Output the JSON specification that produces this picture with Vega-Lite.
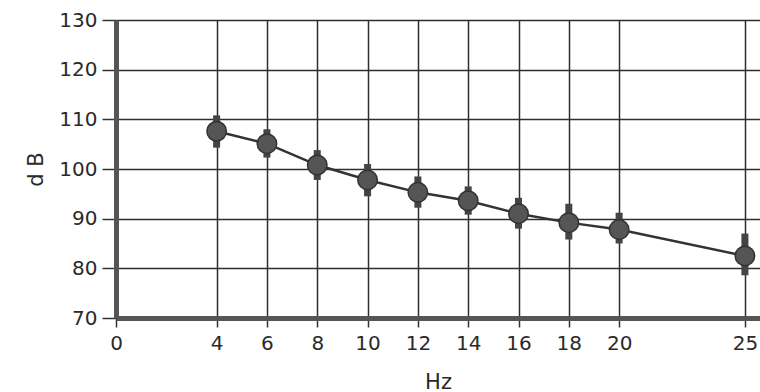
{
  "$schema": "https://vega.github.io/schema/vega-lite/v6.json",
  "autosize": "none",
  "width": 644,
  "height": 298,
  "padding": {"left": 116, "top": 20, "right": 0, "bottom": 74},
  "background": "white",
  "config": {
    "view": {"stroke": null},
    "axis": {
      "labelFont": "DejaVu Sans",
      "titleFont": "DejaVu Sans",
      "labelFontSize": 20,
      "titleFontSize": 21,
      "labelColor": "#2a2a2a",
      "titleColor": "#2a2a2a",
      "titleFontWeight": "normal",
      "gridColor": "#2e2e2e",
      "gridWidth": 1.5,
      "gridOpacity": 1,
      "tickColor": "#333",
      "tickWidth": 1.5,
      "domainColor": "#555",
      "domainWidth": 5
    }
  },
  "data": {
    "values": [
      {"hz": 4, "db": 107.6, "lo": 104.3, "hi": 110.8},
      {"hz": 6, "db": 105.1, "lo": 102.3, "hi": 108.0},
      {"hz": 8, "db": 100.8, "lo": 97.8, "hi": 103.8},
      {"hz": 10, "db": 97.8, "lo": 94.5, "hi": 101.0},
      {"hz": 12, "db": 95.3, "lo": 92.2, "hi": 98.5},
      {"hz": 14, "db": 93.6, "lo": 90.8, "hi": 96.5},
      {"hz": 16, "db": 91.0, "lo": 88.0, "hi": 94.2},
      {"hz": 18, "db": 89.2, "lo": 85.8, "hi": 93.0},
      {"hz": 20, "db": 87.8, "lo": 85.0, "hi": 91.2},
      {"hz": 25, "db": 82.5, "lo": 78.6, "hi": 87.0}
    ]
  },
  "encoding": {
    "x": {
      "field": "hz", "type": "quantitative",
      "scale": {"domain": [0, 25.6], "nice": false, "zero": false},
      "axis": {"values": [0, 4, 6, 8, 10, 12, 14, 16, 18, 20, 25], "title": "Hz", "tickSize": 9, "labelPadding": 6, "titlePadding": 18, "labelFlush": false}
    }
  },
  "layer": [
    {
      "mark": {"type": "rule", "strokeWidth": 7, "color": "#444"},
      "encoding": {
        "y": {"field": "lo", "type": "quantitative",
          "scale": {"domain": [70, 130], "nice": false, "zero": false},
          "axis": {"values": [70, 80, 90, 100, 110, 120, 130], "title": "d B", "tickSize": 14, "labelPadding": 5, "titlePadding": 12}},
        "y2": {"field": "hi"}
      }
    },
    {
      "mark": {"type": "line", "color": "#333", "strokeWidth": 2.5},
      "encoding": {"y": {"field": "db", "type": "quantitative"}}
    },
    {
      "mark": {"type": "point", "shape": "circle", "filled": true, "size": 380, "color": "#555", "opacity": 1, "stroke": "#333", "strokeWidth": 1.5},
      "encoding": {"y": {"field": "db", "type": "quantitative"}}
    }
  ]
}
